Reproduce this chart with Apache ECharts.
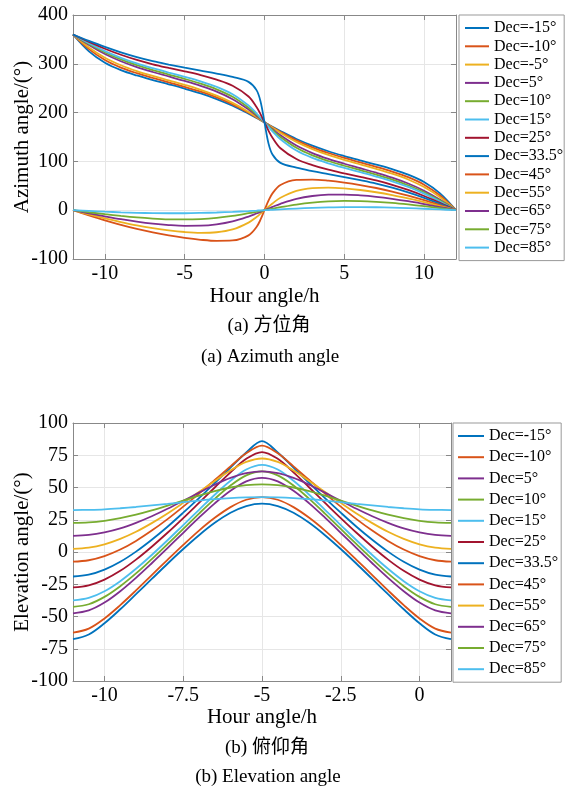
<!DOCTYPE html>
<html>
<head>
<meta charset="utf-8">
<script src="https://cdn.jsdelivr.net/npm/echarts@6/dist/echarts.min.js"></script>
<style>
  html, body { margin: 0; padding: 0; background: #fff; }
  #chart { width: 565px; height: 789px; }
</style>
</head>
<body>
<div id="chart"></div>
<script>
// x values (hour angle) for each panel
const hourAz = [-12, -11, -10, -9, -8, -7, -6, -5, -4, -3, -2, -1, -0.5, -0.25, 0, 0.25, 0.5, 1, 2, 3, 4, 5, 6, 7, 8, 9, 10, 11, 12];
const hourEl = [-11, -10.5, -10, -9.5, -9, -8.5, -8, -7.5, -7, -6.5, -6, -5.5, -5, -4.5, -4, -3.5, -3, -2.5, -2, -1.5, -1, -0.5, 0, 0.5, 1];

const azTicksX = [-10, -5, 0, 5, 10];
const elTicksX = [-10, -7.5, -5, -2.5, 0];

// (a) azimuth angle
const azDecM15 = [360, 325.4, 302.2, 287.1, 276.1, 266.7, 258.0, 249.0, 239.2, 227.7, 214.1, 197.9, 189.1, 184.6, 180, 175.4, 170.9, 162.1, 146.0, 132.3, 120.8, 111.0, 102.0, 93.3, 84.0, 72.9, 57.8, 34.6, 0];
const azDecM10 = [360, 330.0, 307.8, 292.3, 280.8, 271.1, 262.0, 252.9, 242.8, 231.1, 216.8, 199.6, 190.0, 185.0, 180, 175.0, 170.1, 160.4, 143.2, 128.9, 117.2, 107.1, 98.0, 89.0, 79.2, 67.7, 52.3, 30.0, 0];
const azDecM5 = [360, 333.5, 312.5, 297.1, 285.2, 275.2, 266.0, 256.8, 246.7, 234.7, 220.0, 201.5, 191.0, 185.5, 180, 174.5, 169.0, 158.5, 140.0, 125.3, 113.3, 103.2, 94.0, 84.8, 74.8, 63.0, 47.5, 26.5, 0];
const azDec5 = [360, 338.5, 320.0, 305.3, 293.3, 283.2, 274.0, 264.8, 254.8, 243.0, 227.5, 206.5, 193.7, 186.9, 180, 173.1, 166.3, 153.5, 132.5, 117.1, 105.2, 95.2, 86.0, 76.8, 66.7, 54.7, 40.0, 21.5, 0];
const azDec10 = [360, 340.4, 323.2, 308.9, 297.2, 287.1, 278.0, 269.0, 259.2, 247.7, 232.3, 210.0, 195.7, 188.0, 180, 172.0, 164.3, 150.0, 127.8, 112.3, 100.8, 91.1, 82.0, 72.9, 62.8, 51.1, 36.8, 19.6, 0];
const azDec15 = [360, 342.1, 326.0, 312.3, 300.8, 291.0, 282.0, 273.3, 264.0, 252.9, 237.8, 214.6, 198.5, 189.4, 180, 170.6, 161.6, 145.4, 122.2, 107.1, 96.1, 86.7, 78.0, 69.0, 59.2, 47.7, 34.1, 17.9, 0];
const azDec25 = [360, 344.9, 330.9, 318.5, 307.9, 299.0, 291.5, 284.5, 277.0, 267.5, 255.0, 233.0, 211.5, 197.0, 180, 163.0, 148.5, 127.0, 105.0, 92.5, 83.0, 75.5, 68.5, 61.0, 52.1, 41.5, 29.1, 15.1, 0];
const azDec335 = [360, 346.9, 334.6, 323.5, 313.8, 305.5, 298.5, 292.0, 286.0, 280.0, 273.0, 263.0, 246.0, 223.0, 180, 137.0, 114.0, 97.0, 87.0, 80.0, 74.0, 68.0, 61.5, 54.5, 46.2, 36.5, 25.4, 13.1, 0];
const azDec45 = [0, -10.6, -20.7, -30.0, -38.3, -45.5, -51.6, -56.7, -60.6, -62.8, -62.0, -51.6, -34.5, -19.4, 0, 19.4, 34.5, 51.6, 62.0, 62.8, 60.6, 56.7, 51.6, 45.5, 38.3, 30.0, 20.7, 10.6, 0];
const azDec55 = [0, -8.6, -16.8, -24.3, -31.1, -36.8, -41.4, -44.7, -46.3, -45.2, -39.5, -25.4, -13.9, -7.1, 0, 7.1, 13.9, 25.4, 39.5, 45.2, 46.3, 44.7, 41.4, 36.8, 31.1, 24.3, 16.8, 8.6, 0];
const azDec65 = [0, -6.5, -12.6, -18.4, -23.4, -27.5, -30.4, -32.0, -31.8, -29.1, -23.1, -13.1, -6.8, -3.4, 0, 3.4, 6.8, 13.1, 23.1, 29.1, 31.8, 32.0, 30.4, 27.5, 23.4, 18.4, 12.6, 6.5, 0];
const azDec75 = [0, -4.2, -8.2, -11.8, -14.9, -17.2, -18.7, -19.0, -18.1, -15.6, -11.6, -6.2, -3.2, -1.6, 0, 1.6, 3.2, 6.2, 11.6, 15.6, 18.1, 19.0, 18.7, 17.2, 14.9, 11.8, 8.2, 4.2, 0];
const azDec85 = [0, -1.5, -3.0, -4.3, -5.3, -6.0, -6.3, -6.2, -5.6, -4.7, -3.4, -1.8, -0.9, -0.4, 0, 0.4, 0.9, 1.8, 3.4, 4.7, 5.6, 6.2, 6.3, 6.0, 5.3, 4.3, 3.0, 1.5, 0];

// (b) elevation angle
const elDecM15 = [-67.5, -63.9, -55.2, -44.4, -32.7, -20.9, -9.1, 2.3, 13.0, 22.6, 30.4, 35.6, 37.5, 35.6, 30.4, 22.6, 13.0, 2.3, -9.1, -20.9, -32.7, -44.4, -55.2, -63.9, -67.5];
const elDecM10 = [-62.5, -59.4, -51.5, -41.2, -29.8, -17.9, -6.1, 5.5, 16.6, 26.5, 34.8, 40.5, 42.5, 40.5, 34.8, 26.5, 16.6, 5.5, -6.1, -17.9, -29.8, -41.2, -51.5, -59.4, -62.5];
const elDec5 = [-47.5, -45.3, -39.2, -30.4, -20.0, -8.7, 3.0, 14.9, 26.6, 37.7, 47.5, 54.8, 57.5, 54.8, 47.5, 37.7, 26.6, 14.9, 3.0, -8.7, -20.0, -30.4, -39.2, -45.3, -47.5];
const elDec10 = [-42.5, -40.5, -34.8, -26.5, -16.6, -5.5, 6.1, 17.9, 29.8, 41.2, 51.5, 59.4, 62.5, 59.4, 51.5, 41.2, 29.8, 17.9, 6.1, -5.5, -16.6, -26.5, -34.8, -40.5, -42.5];
const elDec15 = [-37.5, -35.6, -30.4, -22.6, -13.0, -2.3, 9.1, 20.9, 32.7, 44.4, 55.2, 63.9, 67.5, 63.9, 55.2, 44.4, 32.7, 20.9, 9.1, -2.3, -13.0, -22.6, -30.4, -35.6, -37.5];
const elDec25 = [-27.5, -25.9, -21.4, -14.6, -5.9, 4.1, 14.9, 26.3, 38.1, 50.0, 61.7, 72.2, 77.5, 72.2, 61.7, 50.0, 38.1, 26.3, 14.9, 4.1, -5.9, -14.6, -21.4, -25.9, -27.5];
const elDec335 = [-19.0, -17.6, -13.7, -7.6, 0.3, 9.5, 19.6, 30.5, 41.8, 53.5, 65.4, 77.1, 86.0, 77.1, 65.4, 53.5, 41.8, 30.5, 19.6, 9.5, 0.3, -7.6, -13.7, -17.6, -19.0];
const elDec45 = [-7.5, -6.4, -3.2, 1.9, 8.6, 16.6, 25.5, 35.2, 45.3, 55.8, 66.4, 76.5, 82.5, 76.5, 66.4, 55.8, 45.3, 35.2, 25.5, 16.6, 8.6, 1.9, -3.2, -6.4, -7.5];
const elDec55 = [2.5, 3.4, 6.0, 10.2, 15.7, 22.4, 29.9, 38.1, 46.6, 55.1, 63.2, 69.8, 72.5, 69.8, 63.2, 55.1, 46.6, 38.1, 29.9, 22.4, 15.7, 10.2, 6.0, 3.4, 2.5];
const elDec65 = [12.5, 13.2, 15.2, 18.3, 22.6, 27.7, 33.5, 39.7, 46.0, 52.1, 57.4, 61.1, 62.5, 61.1, 57.4, 52.1, 46.0, 39.7, 33.5, 27.7, 22.6, 18.3, 15.2, 13.2, 12.5];
const elDec75 = [22.5, 22.9, 24.2, 26.3, 29.0, 32.3, 36.0, 39.9, 43.7, 47.2, 50.0, 51.8, 52.5, 51.8, 50.0, 47.2, 43.7, 39.9, 36.0, 32.3, 29.0, 26.3, 24.2, 22.9, 22.5];
const elDec85 = [32.5, 32.7, 33.1, 33.9, 34.9, 36.1, 37.3, 38.6, 39.9, 41.0, 41.8, 42.3, 42.5, 42.3, 41.8, 41.0, 39.9, 38.6, 37.3, 36.1, 34.9, 33.9, 33.1, 32.7, 32.5];

// matlab default line colours
const BLUE = "#0072BD", ORANGE = "#D95319", YELLOW = "#EDB120", PURPLE = "#7E2F8E",
  GREEN = "#77AC30", CYAN = "#4DBEEE", RED = "#A2142F";

const azSeries = [
  ["Dec=-15°", azDecM15, BLUE],
  ["Dec=-10°", azDecM10, ORANGE],
  ["Dec=-5°", azDecM5, YELLOW],
  ["Dec=5°", azDec5, PURPLE],
  ["Dec=10°", azDec10, GREEN],
  ["Dec=15°", azDec15, CYAN],
  ["Dec=25°", azDec25, RED],
  ["Dec=33.5°", azDec335, BLUE],
  ["Dec=45°", azDec45, ORANGE],
  ["Dec=55°", azDec55, YELLOW],
  ["Dec=65°", azDec65, PURPLE],
  ["Dec=75°", azDec75, GREEN],
  ["Dec=85°", azDec85, CYAN],
];
const elSeries = [
  ["Dec=-15°", elDecM15, BLUE],
  ["Dec=-10°", elDecM10, ORANGE],
  ["Dec=5°", elDec5, PURPLE],
  ["Dec=10°", elDec10, GREEN],
  ["Dec=15°", elDec15, CYAN],
  ["Dec=25°", elDec25, RED],
  ["Dec=33.5°", elDec335, BLUE],
  ["Dec=45°", elDec45, ORANGE],
  ["Dec=55°", elDec55, YELLOW],
  ["Dec=65°", elDec65, PURPLE],
  ["Dec=75°", elDec75, GREEN],
  ["Dec=85°", elDec85, CYAN],
];

const FONT = '"Liberation Serif", "Times New Roman", serif';
const CJK = '"Liberation Serif", "Noto Sans CJK SC", serif';
const AXIS_COLOR = "#888";
const GRID_COLOR = "#e6e6e6";

function makeLine(item, xs, axisIdx) {
  return {
    name: item[0],
    type: "line",
    xAxisIndex: axisIdx,
    yAxisIndex: axisIdx,
    data: xs.map((x, i) => [x, item[1][i]]),
    symbol: "none",
    smooth: 0.35,
    color: item[2],
    lineStyle: { color: item[2], width: 1.8 },
  };
}

function xAxisMain(grid, min, max, ticks, gap) {
  return {
    type: "value",
    gridIndex: grid,
    min: min,
    max: max,
    position: "bottom",
    name: "Hour angle/h",
    nameLocation: "middle",
    nameGap: gap,
    nameTextStyle: { fontFamily: FONT, fontSize: 21, color: "#000" },
    axisLine: { show: true, onZero: false, lineStyle: { color: AXIS_COLOR } },
    axisTick: { show: true, inside: true, length: 5, customValues: ticks, lineStyle: { color: AXIS_COLOR } },
    axisLabel: { customValues: ticks, fontFamily: FONT, fontSize: 20, color: "#000", margin: 5 },
    splitLine: { show: true, lineStyle: { color: GRID_COLOR } },
  };
}
function xAxisTop(grid, min, max, ticks) {
  return {
    type: "value",
    gridIndex: grid,
    min: min,
    max: max,
    position: "top",
    axisLine: { show: true, onZero: false, lineStyle: { color: AXIS_COLOR } },
    axisTick: { show: true, inside: true, length: 5, customValues: ticks, lineStyle: { color: AXIS_COLOR } },
    axisLabel: { show: false },
    splitLine: { show: false },
  };
}
function yAxisMain(grid, min, max, step, name) {
  return {
    type: "value",
    gridIndex: grid,
    min: min,
    max: max,
    interval: step,
    position: "left",
    name: name,
    nameLocation: "middle",
    nameGap: 40,
    nameMoveOverlap: false,
    nameTextStyle: { fontFamily: FONT, fontSize: 21, color: "#000" },
    axisLine: { show: true, onZero: false, lineStyle: { color: AXIS_COLOR } },
    axisTick: { show: true, inside: true, length: 5, lineStyle: { color: AXIS_COLOR } },
    axisLabel: { fontFamily: FONT, fontSize: 20, color: "#000", margin: 5 },
    splitLine: { show: true, lineStyle: { color: GRID_COLOR } },
  };
}
function yAxisRight(grid, min, max, step) {
  return {
    type: "value",
    gridIndex: grid,
    min: min,
    max: max,
    interval: step,
    position: "right",
    axisLine: { show: true, onZero: false, lineStyle: { color: AXIS_COLOR } },
    axisTick: { show: true, inside: true, length: 5, lineStyle: { color: AXIS_COLOR } },
    axisLabel: { show: false },
    splitLine: { show: false },
  };
}

const legendText = { fontFamily: FONT, fontSize: 16, color: "#000", lineHeight: 16 };

const option = {
  animation: false,
  backgroundColor: "#fff",
  grid: [
    { left: 73, top: 15, width: 383, height: 244, outerBoundsMode: "none" },
    { left: 73, top: 423, width: 378, height: 258, outerBoundsMode: "none" },
  ],
  xAxis: [
    xAxisMain(0, -12, 12, azTicksX, 27),
    xAxisMain(1, -11, 1, elTicksX, 25),
    xAxisTop(0, -12, 12, azTicksX),
    xAxisTop(1, -11, 1, elTicksX),
  ],
  yAxis: [
    yAxisMain(0, -100, 400, 100, "Azimuth angle/(°)"),
    yAxisMain(1, -100, 100, 25, "Elevation angle/(°)"),
    yAxisRight(0, -100, 400, 100),
    yAxisRight(1, -100, 100, 25),
  ],
  legend: [
    {
      orient: "vertical",
      left: 459,
      top: 15,
      padding: [5, 1, 5, 6],
      icon: "rect",
      itemWidth: 24,
      itemHeight: 2,
      itemGap: 2.3,
      borderColor: "#999",
      borderWidth: 1,
      textStyle: legendText,
      data: azSeries.map((s) => s[0]),
    },
    {
      orient: "vertical",
      left: 453,
      top: 423,
      padding: [5, 3, 5, 5],
      icon: "rect",
      itemWidth: 26,
      itemHeight: 2,
      itemGap: 5.2,
      borderColor: "#999",
      borderWidth: 1,
      textStyle: legendText,
      data: elSeries.map((s) => s[0]),
    },
  ],
  graphic: [
    { type: "text", x: 269, y: 326, style: { text: "(a) 方位角", font: "19px " + CJK, fill: "#000", align: "center", verticalAlign: "middle" } },
    { type: "text", x: 270, y: 357, style: { text: "(a) Azimuth angle", font: "19px " + FONT, fill: "#000", align: "center", verticalAlign: "middle" } },
    { type: "text", x: 267, y: 748, style: { text: "(b) 俯仰角", font: "19px " + CJK, fill: "#000", align: "center", verticalAlign: "middle" } },
    { type: "text", x: 268, y: 777, style: { text: "(b) Elevation angle", font: "19px " + FONT, fill: "#000", align: "center", verticalAlign: "middle" } },
  ],
  series: azSeries.map((s) => makeLine(s, hourAz, 0)).concat(elSeries.map((s) => makeLine(s, hourEl, 1))),
};

const myChart = echarts.init(document.getElementById("chart"));
myChart.setOption(option);
</script>
</body>
</html>
